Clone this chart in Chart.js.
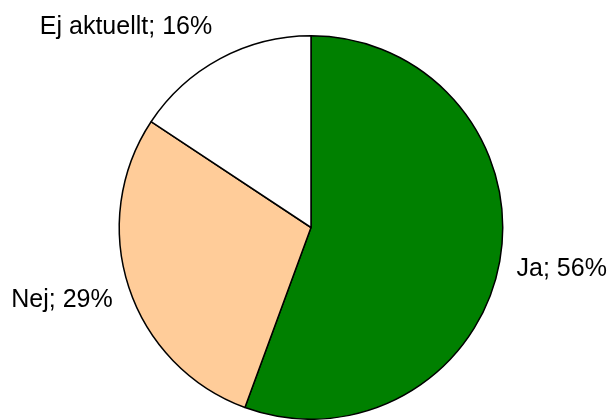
<!DOCTYPE html>
<html>
<head>
<meta charset="utf-8">
<script src="https://cdn.jsdelivr.net/npm/chart.js@4"></script>
<style>
  html, body { margin: 0; padding: 0; background: #fff; }
  #wrap { width: 612px; height: 420px; }
</style>
</head>
<body>
<div id="wrap"><canvas id="chartPie" width="612" height="420"></canvas></div>
<script>
// data
const categories = ['Ja', 'Nej', 'Ej aktuellt'];
const shares = [55.6, 28.7, 15.7];
const sliceColors = ['#008000', '#FFCC99', '#FFFFFF'];

// labels outside the slices: "Name; NN%"
const outsideLabels = {
  id: 'outsideLabels',
  afterDatasetsDraw(chart) {
    const ctx = chart.ctx;
    const meta = chart.getDatasetMeta(0);
    ctx.save();
    ctx.font = '25px "Liberation Sans", Arial, sans-serif';
    ctx.fillStyle = '#000';
    ctx.textBaseline = 'middle';
    meta.data.forEach((arc, i) => {
      const mid = (arc.startAngle + arc.endAngle) / 2;
      const dx = Math.cos(mid);
      const dy = Math.sin(mid);
      const d = arc.outerRadius + 17;
      const h = 40;
      const x = arc.x + dx * d;
      const y = arc.y + dy * d + dy * h / 2 + 1.5;
      ctx.textAlign = dx >= 0 ? 'left' : 'right';
      ctx.fillText(categories[i] + '; ' + Math.round(shares[i]) + '%', x, y);
    });
    ctx.restore();
  }
};

new Chart(document.getElementById('chartPie'), {
  type: 'pie',
  data: {
    labels: categories,
    datasets: [{
      data: shares,
      backgroundColor: sliceColors,
      borderColor: '#000',
      borderWidth: 1.5
    }]
  },
  options: {
    responsive: false,
    animation: false,
    layout: { padding: { top: 35, bottom: 0, left: 10, right: 0 } },
    plugins: {
      legend: { display: false },
      tooltip: { enabled: false }
    }
  },
  plugins: [outsideLabels]
});
</script>
</body>
</html>
